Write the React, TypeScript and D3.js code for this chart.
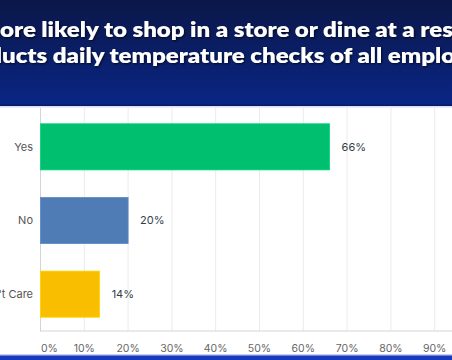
import React, { useLayoutEffect, useRef } from "react";
import * as d3 from "d3";

const categories = ["Yes", "No", "Don't Care"];
const values = [66, 20, 13.5];
const valueLabels = ["66%", "20%", "14%"];
const barColors = ["#00bf6f", "#507cb6", "#f9be00"];
const ticks = [0, 10, 20, 30, 40, 50, 60, 70, 80, 90, 100];
const titleLines = [
  { text: "more likely to shop in a store or dine at a restaurant that", from: 1, to: 47, x0: 0, x1: 453, y: 37 },
  { text: "conducts daily temperature checks of all employees?", from: 4, to: 45, x0: 2, x1: 441.5, y: 63.5 },
];

const W = 452;
const H = 360;

export default function App() {
  const titleRef = useRef<SVGGElement>(null);
  const x = d3.scaleLinear().domain([0, 100]).range([40.5, 478.5]);
  const y = d3.scaleBand<string>().domain(categories).range([110, 331]).paddingInner(0.374).paddingOuter(0.187);

  useLayoutEffect(() => {
    if (!titleRef.current) return;
    const groups = titleRef.current.querySelectorAll("g.tl");
    groups.forEach((g, i) => {
      const line = titleLines[i];
      const t = g.querySelector("text") as SVGTextElement;
      const off = t.getSubStringLength(0, line.from);
      const vis = t.getSubStringLength(line.from, line.to - line.from);
      const s = (line.x1 - line.x0) / vis;
      t.setAttribute("x", String(-off));
      g.setAttribute("transform", `translate(${line.x0},0) scale(${s},1)`);
    });
  }, []);

  return (
    <svg width={W} height={H} style={{ position: "absolute", left: 0, top: 0, display: "block" }}>
      <defs>
        <linearGradient id="hdr" x1="0" y1="0" x2="0" y2="1">
          <stop offset="0" stopColor="#0b1748" />
          <stop offset="1" stopColor="#0a2686" />
        </linearGradient>
        <filter id="sh" x="-5%" y="-20%" width="110%" height="140%">
          <feDropShadow dx="1" dy="1" stdDeviation="0.8" floodColor="#000" floodOpacity="0.7" />
        </filter>
      </defs>
      <rect x={0} y={0} width={W} height={H} fill="#ffffff" />
      <rect x={0} y={0} width={W} height={106} fill="url(#hdr)" />
      <rect x={0} y={104.5} width={W} height={1.5} fill="#0a1a66" />
      <rect x={0} y={106} width={W} height={1.5} fill="#dcdff0" />
      <g ref={titleRef} filter="url(#sh)">
        {titleLines.map((l, i) => (
          <g key={i} className="tl">
            <text x={l.x0} y={l.y} fill="#ffffff" fontFamily="Lato, 'Open Sans', sans-serif" fontWeight={800} fontSize={21}>
              {l.text}
            </text>
          </g>
        ))}
      </g>

      {/* gridlines */}
      {ticks.map((t) => (
        <line key={t} x1={x(t)} x2={x(t)} y1={108} y2={331} stroke="#ebebeb" strokeWidth={1} />
      ))}
      <line x1={40.5} x2={40.5} y1={108} y2={331.5} stroke="#d4d4d4" strokeWidth={1} />
      <line x1={40.5} x2={W} y1={331} y2={331} stroke="#d4d4d4" strokeWidth={1} />

      {/* bars */}
      {categories.map((c, i) => (
        <g key={c}>
          <rect
            x={x(0)}
            y={y(c)!}
            width={x(values[i]) - x(0)}
            height={y.bandwidth()}
            fill={barColors[i]}
            stroke={d3.color(barColors[i])!.brighter(0.3).toString()}
            strokeWidth={0.8}
          />
          <text
            x={x(values[i]) + 12}
            y={y(c)! + y.bandwidth() / 2}
            dy="0.35em"
            fontFamily="Inter, 'Open Sans', sans-serif"
            fontSize={11}
            fill="#333e48"
          >
            {valueLabels[i]}
          </text>
          <text
            x={33}
            y={y(c)! + y.bandwidth() / 2}
            dy="0.35em"
            textAnchor="end"
            fontFamily="Inter, 'Open Sans', sans-serif"
            fontSize={11}
            fill="#555555"
          >
            {c}
          </text>
        </g>
      ))}

      {/* tick labels */}
      {ticks.map((t) => (
        <text
          key={t}
          x={t === 0 ? x(t) + 0.5 : x(t)}
          y={348}
          dy="0.35em"
          textAnchor={t === 0 ? "start" : "middle"}
          fontFamily="Inter, 'Open Sans', sans-serif"
          fontSize={10.5}
          fill="#666666"
        >
          {t + "%"}
        </text>
      ))}

      <rect x={0} y={354.5} width={W} height={1} fill="#8fa0e0" />
      <rect x={0} y={355.5} width={W} height={H - 355.5} fill="#1838c0" />
    </svg>
  );
}
